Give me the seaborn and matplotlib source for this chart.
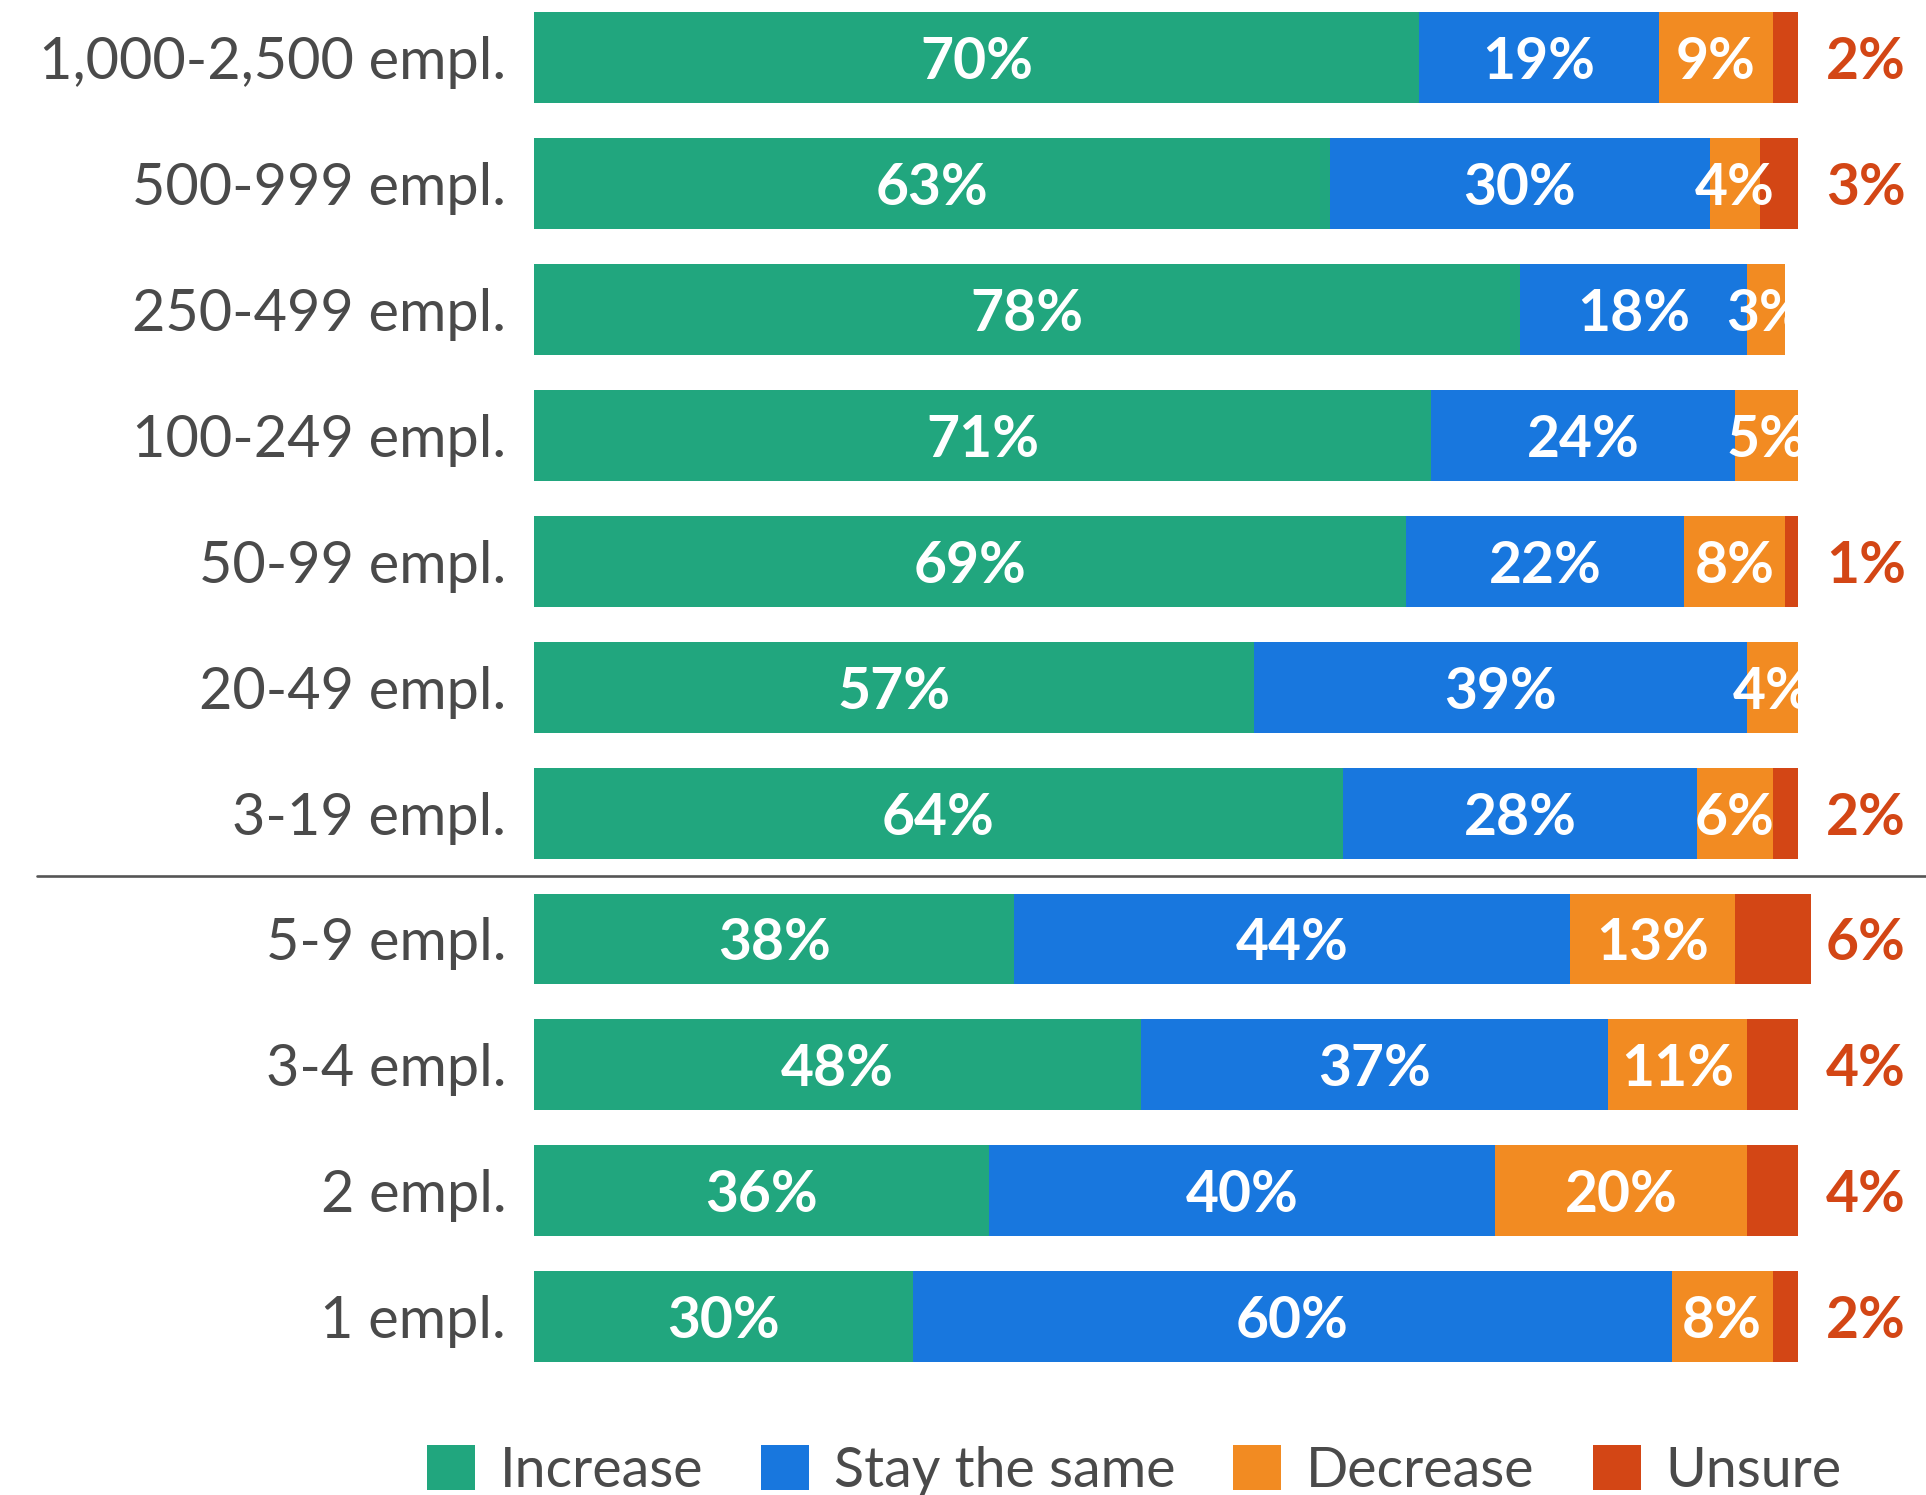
import numpy as np
import pandas as pd
import matplotlib
matplotlib.use("Agg")
import matplotlib.pyplot as plt
import seaborn as sns
from matplotlib.patches import Patch

# Planned hiring change by company size (share of respondents, %)
categories = ["1,000-2,500 empl.", "500-999 empl.", "250-499 empl.", "100-249 empl.",
              "50-99 empl.", "20-49 empl.", "3-19 empl.", "5-9 empl.", "3-4 empl.",
              "2 empl.", "1 empl."]
increase = [70, 63, 78, 71, 69, 57, 64, 38, 48, 36, 30]
stay_same = [19, 30, 18, 24, 22, 39, 28, 44, 37, 40, 60]
decrease = [9, 4, 3, 5, 8, 4, 6, 13, 11, 20, 8]
unsure = [2, 3, 0, 0, 1, 0, 2, 6, 4, 4, 2]

series_names = ["Increase", "Stay the same", "Decrease", "Unsure"]
series_colors = ["#21A67E", "#1877DE", "#F28B22", "#D34615"]
text_gray = "#4a4a4a"

sns.set_theme(style="white")
plt.rcParams["font.family"] = ["Lato", "DejaVu Sans"]

df = pd.DataFrame({"category": categories, "Increase": increase,
                   "Stay the same": stay_same, "Decrease": decrease,
                   "Unsure": unsure})
cum = df[series_names].cumsum(axis=1)

W, H = 1926, 1495
fig = plt.figure(figsize=(W / 100, H / 100), dpi=100)
ax_left = 534 / W
ax_bottom = 1 - 1379.6 / H
ax = fig.add_axes([ax_left, ax_bottom, 1 - ax_left, 1379.6 / H])

# stacked bars: draw cumulative totals from the outermost segment inwards
for name, color in reversed(list(zip(series_names, series_colors))):
    sns.barplot(data=cum.assign(category=df["category"]), x=name, y="category",
                orient="h", color=color, saturation=1, width=0.722,
                linewidth=0, errorbar=None, ax=ax, zorder=2)

# segment labels
for i in range(len(categories)):
    left = 0
    for name in series_names[:3]:
        v = df.loc[i, name]
        if v > 0:
            ax.text(left + v / 2, i, f"{v}%", ha="center", va="center_baseline",
                    color="white", fontsize=41, fontweight="bold", zorder=5)
        left += v
    u = df.loc[i, "Unsure"]
    if u > 0:
        ax.text(102.2, i, f"{u}%", ha="left", va="center_baseline",
                color=series_colors[3], fontsize=41, fontweight="bold", zorder=5)

ax.set_xlim(0, (W - 534) / 12.64)
ax.set_ylim(10.5, -0.458)
ax.set_xticks([])
ax.set_xlabel("")
ax.set_ylabel("")
for s in ax.spines.values():
    s.set_visible(False)
ax.tick_params(axis="y", length=0, pad=20, labelsize=41.5, labelcolor=text_gray)

# separator between the two size groupings
ax.axhline(6.5, xmin=-(534 - 37) / (W - 534), xmax=1, color="#555555",
           linewidth=1.9, clip_on=False, zorder=1)

handles = [Patch(facecolor=c, edgecolor="none") for c in series_colors]
fig.legend(handles, series_names, loc="upper left",
           bbox_to_anchor=(427 / W, 1 - 1445 / H), ncol=4, frameon=False,
           fontsize=40, handlelength=0.863, handleheight=0.863,
           handletextpad=0.44, columnspacing=1.05, borderpad=0,
           borderaxespad=0, labelcolor=text_gray)

fig.savefig("out.png", dpi=100)
